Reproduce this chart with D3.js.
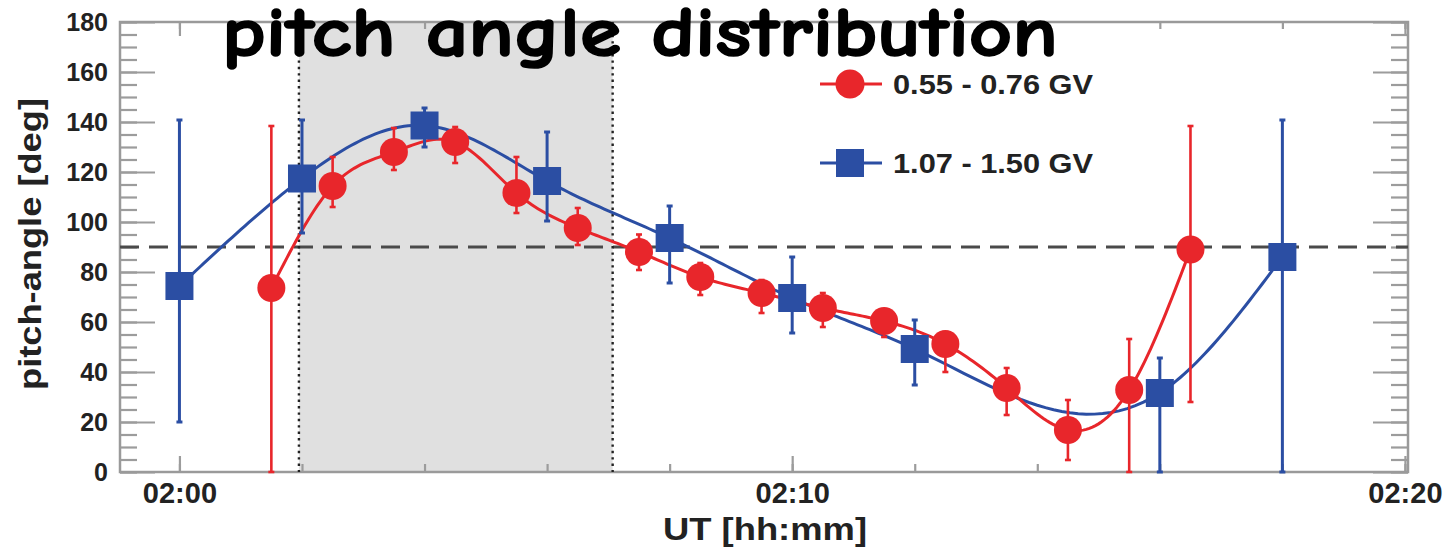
<!DOCTYPE html>
<html>
<head>
<meta charset="utf-8">
<script src="https://cdn.jsdelivr.net/npm/d3@7"></script>
<style>
  html, body { margin: 0; padding: 0; background: #fff; }
  svg { display: block; }
</style>
</head>
<body>
<svg id="chart" width="1455" height="554"></svg>
<script>
// Time is given in minutes after 02:00 UT, angles in degrees.

// 0.55 - 0.76 GV
const redTime  = [1.5, 2.5, 3.5, 4.5, 5.5, 6.5, 7.5, 8.5, 9.5, 10.5, 11.5, 12.5, 13.5, 14.5, 15.5, 16.5];
const redAngle = [73.6, 114.4, 128, 132, 111.6, 97.6, 88, 78, 71.6, 65.6, 60.4, 51.2, 33.6, 16.8, 32.8, 89];
const redErrUp   = [64.8, 11.6, 9.6, 6, 14.4, 8, 7, 5.6, 5.2, 6, 4.4, 4.8, 8, 12, 20.4, 49.4];
const redErrDown = [73.6, 8.4, 7.2, 8.4, 8, 6.8, 7.2, 7.2, 8, 7.6, 6.4, 11.2, 10.8, 12, 32.8, 61];

// 1.07 - 1.50 GV
const blueTime  = [0, 2, 4, 6, 8, 10, 12, 16, 18];
const blueAngle = [74.4, 117.4, 138.6, 116.4, 93.6, 69.6, 49.2, 31.6, 86];
const blueErrUp   = [66.4, 23.4, 7, 19.6, 12.8, 16.4, 11.6, 14, 54.8];
const blueErrDown = [54.4, 21.8, 8.6, 16, 18, 14, 14.4, 31.6, 86];

// shaded interval (minutes after 02:00) and reference angle
const shadeStart = 1.95;
const shadeEnd = 7.07;
const refAngle = 90;

// axis ticks
const xMajorTicks = [0, 10, 20];
const xTickLabels = ["02:00", "02:10", "02:20"];
const xMinorTicks = [0, 2, 4, 6, 8, 10, 12, 14, 16, 18, 20];
const yMajorTicks = [0, 20, 40, 60, 80, 100, 120, 140, 160, 180];
const yMinorTicks = d3.range(0, 181, 5);

const seriesNames = ["0.55 - 0.76 GV", "1.07 - 1.50 GV"];
const titleText = "pitch angle distribution";
const xTitle = "UT [hh:mm]";
const yTitle = "pitch-angle [deg]";

(function draw() {
  const RED = "#e8262b";
  const BLUE = "#2b4ea3";
  const AXIS_FONT = "'Liberation Sans', Arial, Helvetica, sans-serif";

  const svg = d3.select("#chart");
  const pl = 120, pr = 1408, pt = 22, pb = 472;

  const x = d3.scaleLinear().domain([-0.97, 20.05]).range([pl, pr]);
  const y = d3.scaleLinear().domain([0, 180]).range([pb, pt]);

  // natural cubic spline y(t) through the measured points, sampled for drawing
  function splinePath(ts, vs, steps) {
    const n = ts.length;
    const h = d3.range(n - 1).map(i => ts[i + 1] - ts[i]);
    const s = d3.range(n - 1).map(i => (vs[i + 1] - vs[i]) / h[i]);
    const M = new Array(n).fill(0);
    if (n > 2) {
      const a = [], b = [], c = [], r = [];
      for (let i = 1; i < n - 1; i++) {
        a.push(h[i - 1]); b.push(2 * (h[i - 1] + h[i])); c.push(h[i]);
        r.push(6 * (s[i] - s[i - 1]));
      }
      const m = b.length;
      for (let i = 1; i < m; i++) {
        const w = a[i] / b[i - 1];
        b[i] -= w * c[i - 1];
        r[i] -= w * r[i - 1];
      }
      const sol = new Array(m);
      sol[m - 1] = r[m - 1] / b[m - 1];
      for (let i = m - 2; i >= 0; i--) sol[i] = (r[i] - c[i] * sol[i + 1]) / b[i];
      for (let i = 0; i < m; i++) M[i + 1] = sol[i];
    }
    const out = [];
    for (let i = 0; i < n - 1; i++) {
      for (let k = 0; k < steps; k++) {
        const u = (k / steps) * h[i];
        const A = (h[i] - u) / h[i], B = u / h[i];
        const v = A * vs[i] + B * vs[i + 1] +
          ((A * A * A - A) * M[i] + (B * B * B - B) * M[i + 1]) * h[i] * h[i] / 6;
        out.push({ t: ts[i] + u, v });
      }
    }
    out.push({ t: ts[n - 1], v: vs[n - 1] });
    return out;
  }

  // shaded interval
  svg.append("rect")
    .attr("x", x(shadeStart)).attr("y", pt)
    .attr("width", x(shadeEnd) - x(shadeStart)).attr("height", pb - pt)
    .attr("fill", "#e0e0e0");

  // axes with inward ticks on all four sides
  function styleAxis(g, labelSize) {
    g.select(".domain").remove();
    g.selectAll(".tick line").attr("stroke", "#9c9c9c").attr("stroke-width", 2.2);
    g.selectAll(".tick text")
      .attr("fill", "#222")
      .attr("font-family", AXIS_FONT)
      .attr("font-weight", "bold")
      .attr("font-size", labelSize);
  }

  svg.append("g").attr("transform", `translate(${pl},0)`)
    .call(d3.axisLeft(y).tickValues(yMinorTicks).tickSize(-17).tickFormat(""))
    .call(g => styleAxis(g, 0));
  svg.append("g").attr("transform", `translate(${pl},0)`)
    .call(d3.axisLeft(y).tickValues(yMajorTicks).tickSize(-35).tickPadding(12).tickFormat(d3.format("d")))
    .call(g => styleAxis(g, 25));
  svg.append("g").attr("transform", `translate(${pr},0)`)
    .call(d3.axisRight(y).tickValues(yMinorTicks).tickSize(-17).tickFormat(""))
    .call(g => styleAxis(g, 0));
  svg.append("g").attr("transform", `translate(${pr},0)`)
    .call(d3.axisRight(y).tickValues(yMajorTicks).tickSize(-35).tickFormat(""))
    .call(g => styleAxis(g, 0));

  svg.append("g").attr("transform", `translate(0,${pb})`)
    .call(d3.axisBottom(x).tickValues(xMinorTicks).tickSize(-8).tickFormat(""))
    .call(g => styleAxis(g, 0));
  svg.append("g").attr("transform", `translate(0,${pb})`)
    .call(d3.axisBottom(x).tickValues(xMajorTicks).tickSize(-16).tickPadding(10)
      .tickFormat((d, i) => xTickLabels[i]))
    .call(g => styleAxis(g, 29));
  svg.append("g").attr("transform", `translate(0,${pt})`)
    .call(d3.axisTop(x).tickValues(xMinorTicks).tickSize(-7).tickFormat(""))
    .call(g => styleAxis(g, 0));
  svg.append("g").attr("transform", `translate(0,${pt})`)
    .call(d3.axisTop(x).tickValues(xMajorTicks).tickSize(-14).tickFormat(""))
    .call(g => styleAxis(g, 0));

  // frame
  svg.append("rect")
    .attr("x", pl).attr("y", pt)
    .attr("width", pr - pl).attr("height", pb - pt)
    .attr("fill", "none").attr("stroke", "#9a9a9a").attr("stroke-width", 2.5);

  // reference line at 90 deg
  svg.append("line")
    .attr("x1", pl).attr("x2", pr)
    .attr("y1", y(refAngle)).attr("y2", y(refAngle))
    .attr("stroke", "#4a4a4a").attr("stroke-width", 2.8)
    .attr("stroke-dasharray", "19,10");

  // interval boundaries
  [shadeStart, shadeEnd].forEach(t => {
    svg.append("line")
      .attr("x1", x(t)).attr("x2", x(t))
      .attr("y1", pt).attr("y2", pb)
      .attr("stroke", "#222").attr("stroke-width", 2.4)
      .attr("stroke-dasharray", "2.4,4");
  });

  // series
  const red = redTime.map((t, i) => ({ t, v: redAngle[i], up: redErrUp[i], dn: redErrDown[i] }));
  const blue = blueTime.map((t, i) => ({ t, v: blueAngle[i], up: blueErrUp[i], dn: blueErrDown[i] }));

  const line = d3.line().x(d => x(d.t)).y(d => y(d.v));

  svg.append("path").datum(splinePath(blueTime, blueAngle, 30)).attr("d", line)
    .attr("fill", "none").attr("stroke", BLUE).attr("stroke-width", 3);
  svg.append("path").datum(splinePath(redTime, redAngle, 20)).attr("d", line)
    .attr("fill", "none").attr("stroke", RED).attr("stroke-width", 3);

  function errorBars(data, color, width) {
    const g = svg.append("g").attr("stroke", color).attr("stroke-width", width);
    g.selectAll("line.bar").data(data).join("line").attr("class", "bar")
      .attr("x1", d => x(d.t)).attr("x2", d => x(d.t))
      .attr("y1", d => y(d.v + d.up)).attr("y2", d => y(d.v - d.dn));
    g.selectAll("line.capTop").data(data).join("line").attr("class", "capTop")
      .attr("x1", d => x(d.t) - 3).attr("x2", d => x(d.t) + 3)
      .attr("y1", d => y(d.v + d.up)).attr("y2", d => y(d.v + d.up));
    g.selectAll("line.capBot").data(data).join("line").attr("class", "capBot")
      .attr("x1", d => x(d.t) - 3).attr("x2", d => x(d.t) + 3)
      .attr("y1", d => y(d.v - d.dn)).attr("y2", d => y(d.v - d.dn));
  }
  errorBars(red, RED, 2.6);
  errorBars(blue, BLUE, 3);

  svg.append("g").selectAll("circle").data(red).join("circle")
    .attr("cx", d => x(d.t)).attr("cy", d => y(d.v)).attr("r", 14)
    .attr("fill", RED);
  svg.append("g").selectAll("rect").data(blue).join("rect")
    .attr("x", d => x(d.t) - 14).attr("y", d => y(d.v) - 14)
    .attr("width", 28).attr("height", 28)
    .attr("fill", BLUE);

  // legend
  const legend = svg.append("g");
  const legendRows = [
    { name: seriesNames[0], color: RED, shape: "circle", cy: 84 },
    { name: seriesNames[1], color: BLUE, shape: "square", cy: 163 }
  ];
  legendRows.forEach(r => {
    legend.append("line")
      .attr("x1", 820).attr("x2", 882).attr("y1", r.cy).attr("y2", r.cy)
      .attr("stroke", r.color).attr("stroke-width", 3);
    if (r.shape === "circle") {
      legend.append("circle").attr("cx", 850).attr("cy", r.cy).attr("r", 14.5).attr("fill", r.color);
    } else {
      legend.append("rect").attr("x", 836).attr("y", r.cy - 14).attr("width", 28).attr("height", 28).attr("fill", r.color);
    }
    legend.append("text")
      .attr("x", 893).attr("y", r.cy + 10)
      .attr("font-family", AXIS_FONT).attr("font-weight", "bold").attr("font-size", 28)
      .attr("fill", "#222")
      .attr("textLength", 200).attr("lengthAdjust", "spacingAndGlyphs")
      .text(r.name);
  });

  // axis titles
  svg.append("text")
    .attr("x", 765).attr("y", 540)
    .attr("text-anchor", "middle")
    .attr("font-family", AXIS_FONT).attr("font-weight", "bold").attr("font-size", 31)
    .attr("fill", "#222")
    .attr("textLength", 204).attr("lengthAdjust", "spacingAndGlyphs")
    .text(xTitle);

  svg.append("text")
    .attr("transform", "translate(41,244) rotate(-90)")
    .attr("text-anchor", "middle")
    .attr("font-family", AXIS_FONT).attr("font-weight", "bold").attr("font-size", 31)
    .attr("fill", "#222")
    .attr("textLength", 292).attr("lengthAdjust", "spacingAndGlyphs")
    .text(yTitle);

  // title
  svg.append("text")
    .attr("x", 222).attr("y", 56)
    .attr("font-family", "'Comic Sans MS', 'Comic Neue', 'Noto Sans', sans-serif")
    .attr("font-weight", "bold").attr("font-size", 70)
    .attr("fill", "#000").attr("stroke", "#000").attr("stroke-width", 1.6)
    .attr("stroke-linejoin", "round")
    .attr("textLength", 836).attr("lengthAdjust", "spacingAndGlyphs")
    .text(titleText);
})();
</script>
</body>
</html>
